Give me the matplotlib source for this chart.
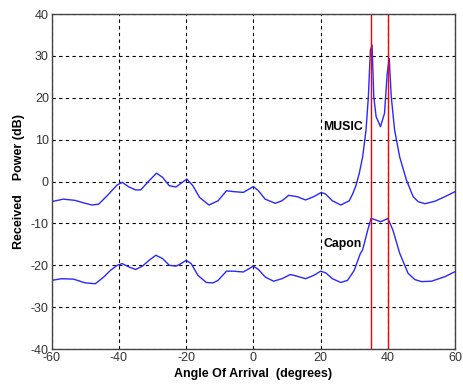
import matplotlib.pyplot as plt
import numpy as np

plt.rcParams['axes.unicode_minus'] = False

# angles (deg) and received power (dB)
music_angle = [-60, -56.5, -53, -50, -48, -46, -43.5, -40.5, -39, -37, -35, -33.5, -31, -28.8,
               -27, -25, -23, -21.5, -19.8, -18, -16, -13.2, -10.5, -8, -6, -3, 0, 1.5, 3.5,
               6.5, 8.5, 10.5, 13, 15.5, 18, 20.2, 21.5, 23.5, 26, 28.5, 29.5, 30.5, 31.5, 32.5,
               33.5, 34.2, 34.8, 35.3, 35.8, 36.5, 37.8, 39, 39.8, 40.4, 41, 42, 43.5, 45.5,
               47.5, 49, 51, 54, 57, 60]
music_db = [-4.8, -4.2, -4.5, -5.2, -5.6, -5.4, -3.4, -0.8, -0.2, -1.3, -2, -2, 0.2, 2,
            1, -1, -1.3, -0.4, 0.6, -1, -3.8, -5.6, -4.6, -2.2, -2.4, -2.6, -1.2, -2.2, -4.2,
            -5.2, -4.6, -3.3, -3.6, -4.4, -3.6, -2.6, -3, -4.6, -5.6, -4.6, -3, -1, 2, 5.9,
            12.3, 20.3, 31.4, 32.6, 20.3, 15.5, 13.1, 16.3, 25.8, 29.4, 20.3, 12.3, 5.9, 0.4,
            -3.6, -4.8, -5.3, -4.7, -3.6, -2.4]

capon_angle = [-60, -57, -53.5, -50, -47, -44.5, -42.5, -40.5, -39, -37, -35, -33, -31, -29,
               -27, -25, -23, -21.5, -20, -18.5, -16.5, -14, -12, -10.5, -8, -6, -3, 0, 1.5,
               3.5, 6, 8.5, 11, 13, 15.5, 18, 20, 21.5, 23.5, 26, 28, 30, 31.8, 32.5, 34, 35,
               36.5, 37.8, 39, 40, 41.5, 43.5, 46, 48, 50, 53, 57, 60]
capon_db = [-23.6, -23.2, -23.3, -24.2, -24.4, -22.8, -21.2, -20, -19.6, -20.4, -21, -20.2, -18.8, -17.6,
            -18.4, -20, -20.2, -19.6, -18.8, -19.6, -22.4, -24.1, -24.2, -23.6, -21.4, -21.4, -21.6, -20.2, -21,
            -22.8, -23.8, -23.2, -22.2, -22.6, -23.2, -22.4, -21.4, -21.8, -23.2, -24.1, -23.6, -21.2, -17.2, -16.3, -11.6, -8.8,
            -9.2, -9.6, -9.2, -8.8, -11.6, -17.1, -21.9, -23.4, -23.9, -23.8, -22.7, -21.5]

true_doa = [35, 40]

fig = plt.figure(figsize=(4.63, 3.84), dpi=100)
ax = fig.add_axes([0.1115, 0.091, 0.8715, 0.8725])

ax.plot(music_angle, music_db, color='#2828ff', lw=1.0)
ax.plot(capon_angle, capon_db, color='#2828ff', lw=1.0)
for d in true_doa:
    ax.axvline(d, color='red', lw=1.0)

ax.text(20.6, 13, 'MUSIC', fontsize=8.8, fontweight='bold', va='center', family='Liberation Sans')
ax.text(20.8, -15, 'Capon', fontsize=8.8, fontweight='bold', va='center', family='Liberation Sans')

ax.set_xlim(-60, 60)
ax.set_ylim(-40, 40)
ax.set_xticks(np.arange(-60, 61, 20))
ax.set_yticks(np.arange(-40, 41, 10))
ax.grid(True, color='black', linestyle=(0, (3, 3)), lw=0.8)
ax.tick_params(direction='in', length=0, labelsize=9, labelcolor='#333333', pad=2)
for lab in ax.get_xticklabels() + ax.get_yticklabels():
    lab.set_family('Liberation Sans')
for sp in ax.spines.values():
    sp.set_color('#444444')
    sp.set_linewidth(1.0)

ax.set_xlabel('Angle Of Arrival  (degrees)', fontsize=9, fontweight='bold', family='Liberation Sans', labelpad=3)
ax.set_ylabel('Received    Power (dB)', fontsize=9, fontweight='bold', family='Liberation Sans', labelpad=4)

fig.savefig('out.png', dpi=100)
